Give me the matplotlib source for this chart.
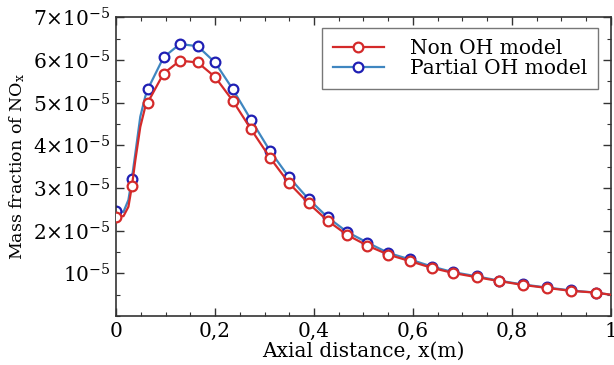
import numpy as np
import matplotlib
matplotlib.use("Agg")
import matplotlib.pyplot as plt
from matplotlib.ticker import FixedLocator, FixedFormatter, MultipleLocator

# valores (x en m, fraccion masica en 1e-5)
# puntos con marcador
x_pts = [0.0, 0.032, 0.064, 0.096, 0.129, 0.165, 0.200, 0.236, 0.273, 0.311,
         0.349, 0.389, 0.428, 0.467, 0.508, 0.550, 0.593, 0.638, 0.681, 0.729,
         0.774, 0.822, 0.870, 0.920, 0.969]
non_oh = [2.33, 3.04, 5.00, 5.68, 5.98, 5.94, 5.60, 5.04, 4.37, 3.71,
          3.12, 2.64, 2.23, 1.90, 1.65, 1.44, 1.29, 1.13, 1.01, 0.91,
          0.82, 0.73, 0.66, 0.59, 0.55]
partial_oh = [2.47, 3.22, 5.31, 6.06, 6.37, 6.32, 5.94, 5.31, 4.59, 3.87,
              3.26, 2.74, 2.31, 1.97, 1.72, 1.48, 1.33, 1.16, 1.03, 0.93,
              0.83, 0.74, 0.67, 0.60, 0.55]

# puntos extra de la curva (sin marcador), tambien
x_extra = [0.015, 0.025, 0.039, 0.049, 0.059, 1.0]
non_oh_extra = [2.34, 2.56, 3.65, 4.43, 4.90, 0.50]
partial_oh_extra = [2.44, 2.72, 3.81, 4.67, 5.14, 0.50]

x_ticks = [0, 0.2, 0.4, 0.6, 0.8, 1.0]
x_labels = ["0", "0,2", "0,4", "0,6", "0,8", "1"]
y_ticks = [1, 2, 3, 4, 5, 6, 7]
y_labels = [r"$10^{-5}$", r"$2{\times}10^{-5}$", r"$3{\times}10^{-5}$",
            r"$4{\times}10^{-5}$", r"$5{\times}10^{-5}$", r"$6{\times}10^{-5}$",
            r"$7{\times}10^{-5}$"]

plt.rcParams['font.family'] = 'DejaVu Serif'
plt.rcParams['mathtext.fontset'] = 'dejavuserif'
plt.rcParams['font.size'] = 14.5


def curva(xm, ym, xe, ye):
    # une los puntos con marcador y los extra, ordenados por x
    xs = np.array(xm + xe)
    ys = np.array(ym + ye)
    orden = np.argsort(xs)
    xs, ys = xs[orden], ys[orden]
    marcas = [i for i, v in enumerate(xs) if v in xm]
    return xs, ys, marcas


fig = plt.figure(figsize=(6.14, 3.65), dpi=100)
ax = fig.add_axes([0.189, 0.134, 0.806, 0.819])

xb, yb, mb = curva(x_pts, partial_oh, x_extra, partial_oh_extra)
xr, yr, mr = curva(x_pts, non_oh, x_extra, non_oh_extra)

ax.plot(xb, yb, color="#3f86c0", lw=1.6, marker="o", ms=7,
        mfc="white", mec="#1f1fb4", mew=1.6, markevery=mb,
        label="Partial OH model", zorder=2)
ax.plot(xr, yr, color="#d42a2a", lw=1.6, marker="o", ms=7,
        mfc="white", mec="#d42a2a", mew=1.6, markevery=mr,
        label="Non OH model", zorder=3)

ax.set_xlim(0, 1)
ax.set_ylim(0, 7)
ax.xaxis.set_major_locator(FixedLocator(x_ticks))
ax.xaxis.set_major_formatter(FixedFormatter(x_labels))
ax.xaxis.set_minor_locator(MultipleLocator(0.05))
ax.yaxis.set_major_locator(FixedLocator(y_ticks))
ax.yaxis.set_major_formatter(FixedFormatter(y_labels))
ax.yaxis.set_minor_locator(MultipleLocator(0.5))

ax.tick_params(which="both", direction="in", top=True, right=True,
               color="#333333", labelsize=14.5)
ax.tick_params(which="major", length=6, width=1, pad=4)
ax.tick_params(which="minor", length=3, width=0.8)
for s in ax.spines.values():
    s.set_color("#333333")
    s.set_linewidth(1.2)

ax.set_xlabel("Axial distance, x(m)", fontsize=14.5, labelpad=1)
ax.set_ylabel(r"Mass fraction of NO$_\mathrm{x}$", fontsize=12.5)
ax.yaxis.set_label_coords(-0.18, 0.5)

h, l = ax.get_legend_handles_labels()
leg = ax.legend(h[::-1], l[::-1], loc="upper right", bbox_to_anchor=(0.974, 0.963),
                borderaxespad=0, fontsize=14.5, handlelength=2.5, fancybox=False,
                edgecolor="#555555", borderpad=0.55, labelspacing=0.05,
                handletextpad=1.3)
leg.get_frame().set_linewidth(1.0)

fig.savefig("out.png", dpi=100)
